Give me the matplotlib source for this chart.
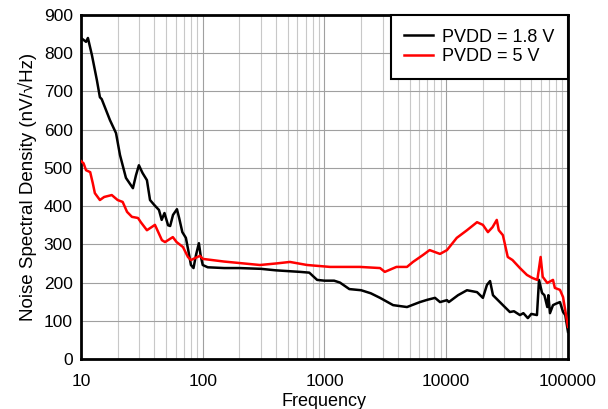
#!/usr/bin/env python3

import numpy as np
import matplotlib
matplotlib.use('Agg')
import matplotlib.pyplot as plt
from matplotlib.ticker import FixedLocator, NullFormatter

plt.rcParams['font.family'] = ['Liberation Sans', 'DejaVu Sans']

# PVDD = 1.8 V (black)
black_freq = [10, 10.5, 11, 11.4, 12.3, 13.5, 14.3, 14.8, 17.3, 19.4, 20.9, 23.4, 26.7, 28.3,
              29.9, 32, 34.8, 36.9, 40, 43.7, 46, 48.5, 51.9, 54, 57, 61.4, 64, 68, 72.7, 76,
              80, 84, 88, 93, 96, 100, 110, 150, 200, 300, 400, 630, 750, 870, 1000, 1200,
              1340, 1600, 2000, 2400, 2860, 3660, 4760, 6080, 7000, 8090, 8890, 10140, 10500,
              12500, 14800, 17900, 20000, 21600, 22900, 24200, 29200, 33300, 36000, 40300,
              43000, 46800, 50000, 55600, 57800, 61200, 64000, 67600, 69000, 71100, 75300,
              80000, 85900, 91100, 95000, 100000]
black_nsd = [840, 835, 830, 840, 795, 730, 685, 680, 625, 591, 534, 474, 447, 481,
             507, 487, 468, 416, 403, 390, 364, 382, 350, 348, 377, 392, 369, 332, 317, 285,
             246, 238, 272, 303, 272, 246, 240, 238, 238, 236, 232, 228, 226, 207, 205, 205,
             200, 183, 180, 172, 160, 141, 136, 149, 155, 160, 149, 154, 149,
             167, 180, 175, 160, 194, 204, 167, 141, 123, 125, 115,
             120, 107, 118, 115, 207, 173, 167, 136, 167, 120, 141,
             145, 149, 123, 115, 71]

# PVDD = 5 V (red)
red_freq = [10, 10.5, 11, 11.9, 12.5, 13, 14.3, 15.5, 17.9, 20, 22, 23.9, 26.2, 29.4, 31,
            34.8, 40.5, 46.2, 49, 56.8, 61, 68.8, 75.6, 80, 94.8, 100, 150, 295, 400, 520,
            720, 1110, 1950, 2860, 3130, 3900, 4760, 5330, 6430, 7300, 8890, 10140, 12200,
            14800, 17900, 20000, 22000, 24000, 26000, 27000, 29200, 32000, 35000, 40300,
            46000, 51000, 56000, 59600, 62000, 67600, 75300, 78000, 85900, 91100, 100000]
red_nsd = [518, 512, 494, 489, 460, 434, 416, 424, 429, 416, 411, 385, 372, 369, 358,
           337, 351, 311, 306, 319, 306, 293, 267, 259, 270, 262, 255, 246, 250, 254,
           246, 241, 241, 238, 228, 241, 241, 254, 272, 285, 275, 285, 317,
           337, 358, 351, 332, 345, 364, 337, 324, 267, 259, 238,
           220, 212, 207, 267, 215, 199, 207, 186, 181, 162, 84]

fig = plt.figure(figsize=(6.08, 4.09), dpi=100)
ax = fig.add_axes([0.1332, 0.1222, 0.801, 0.841])

ax.plot(black_freq, black_nsd, color='black', lw=1.8, label='PVDD = 1.8 V', zorder=3)
ax.plot(red_freq, red_nsd, color='#ff0000', lw=1.8, label='PVDD = 5 V', zorder=3)

ax.set_xscale('log')
ax.set_xlim(10, 100000)
ax.set_ylim(0, 900)
ax.set_yticks(np.arange(0, 1000, 100))
ax.set_xticks([10, 100, 1000, 10000, 100000])
ax.set_xticklabels(['10', '100', '1000', '10000', '100000'])
ax.xaxis.set_minor_locator(FixedLocator([m * 10 ** e for e in range(1, 5) for m in range(2, 10)]))
ax.xaxis.set_minor_formatter(NullFormatter())

ax.grid(True, which='major', color='#a0a0a0', lw=0.8)
ax.grid(True, which='minor', axis='x', color='#c8c8c8', lw=0.8)
ax.set_axisbelow(True)
ax.tick_params(which='both', length=0, labelsize=12.5)
ax.tick_params(axis='x', pad=11)
ax.tick_params(axis='y', pad=6)
for s in ax.spines.values():
    s.set_linewidth(2)

ax.set_xlabel('Frequency', fontsize=13, labelpad=3)
ax.set_ylabel('Noise Spectral Density (nV/\u221aHz)', fontsize=13.5, labelpad=5)

leg = ax.legend(loc='upper right', fontsize=13, fancybox=False, framealpha=1,
                edgecolor='black', borderaxespad=0, handlelength=1.6,
                handletextpad=0.5, labelspacing=0.15, borderpad=0.75)
leg.get_frame().set_linewidth(1.5)

fig.savefig('out.png', dpi=100)
plt.close(fig)
